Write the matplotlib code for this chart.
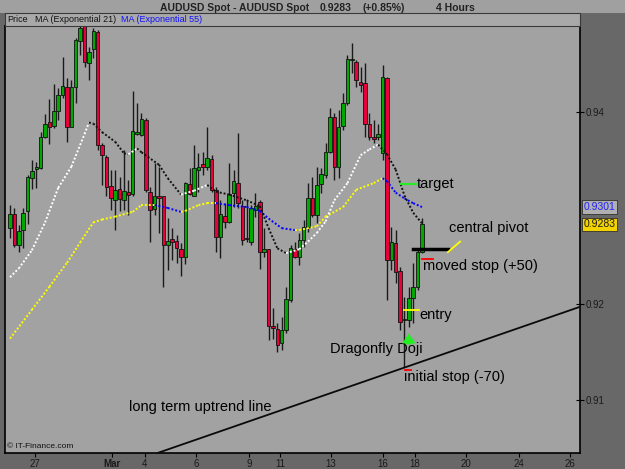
import numpy as np
import matplotlib.pyplot as plt
from matplotlib.patches import Rectangle
from matplotlib.transforms import blended_transform_factory

plt.rcParams['font.family'] = ['Liberation Sans', 'DejaVu Sans']

# AUDUSD 4 hour bars, oldest first
opens = [0.9279, 0.9294, 0.9261, 0.9277, 0.9297, 0.9331, 0.9341, 0.9342, 0.9374, 0.9390,
         0.9385, 0.9401, 0.9418, 0.9426, 0.9384, 0.9426, 0.9474, 0.9490, 0.9451, 0.9466,
         0.9483, 0.9366, 0.9353, 0.9323, 0.9308, 0.9320, 0.9308, 0.9317, 0.9315, 0.9377,
         0.9376, 0.9392, 0.9317, 0.9299, 0.9312, 0.9312, 0.9261, 0.9268, 0.9266, 0.9257,
         0.9249, 0.9325, 0.9313, 0.9340, 0.9346, 0.9343, 0.9351, 0.9319, 0.9270, 0.9292,
         0.9285, 0.9316, 0.9326, 0.9302, 0.9269, 0.9265, 0.9298, 0.9306, 0.9254, 0.9257,
         0.9177, 0.9174, 0.9159, 0.9173, 0.9204, 0.9257, 0.9249, 0.9267, 0.9280, 0.9310,
         0.9293, 0.9325, 0.9334, 0.9358, 0.9395, 0.9343, 0.9385, 0.9409, 0.9454, 0.9452,
         0.9431, 0.9430, 0.9387, 0.9374, 0.9374, 0.9357, 0.9435, 0.9246, 0.9264, 0.9234,
         0.9183, 0.9183, 0.9206, 0.9218, 0.9254]
highs = [0.9303, 0.9300, 0.9282, 0.9300, 0.9334, 0.9350, 0.9348, 0.9379, 0.9398, 0.9414,
         0.9429, 0.9425, 0.9457, 0.9435, 0.9433, 0.9477, 0.9492, 0.9492, 0.9468, 0.9487,
         0.9485, 0.9368, 0.9355, 0.9340, 0.9340, 0.9332, 0.9360, 0.9329, 0.9422, 0.9409,
         0.9399, 0.9394, 0.9322, 0.9347, 0.9343, 0.9312, 0.9290, 0.9279, 0.9272, 0.9264,
         0.9327, 0.9342, 0.9366, 0.9357, 0.9358, 0.9384, 0.9355, 0.9322, 0.9308, 0.9305,
         0.9347, 0.9340, 0.9378, 0.9308, 0.9308, 0.9303, 0.9316, 0.9308, 0.9279, 0.9257,
         0.9196, 0.9180, 0.9186, 0.9218, 0.9261, 0.9265, 0.9274, 0.9287, 0.9326, 0.9332,
         0.9343, 0.9342, 0.9368, 0.9404, 0.9399, 0.9402, 0.9420, 0.9459, 0.9472, 0.9454,
         0.9447, 0.9451, 0.9399, 0.9392, 0.9387, 0.9449, 0.9436, 0.9280, 0.9277, 0.9239,
         0.9207, 0.9218, 0.9243, 0.9258, 0.9290]
lows = [0.9269, 0.9259, 0.9254, 0.9258, 0.9283, 0.9320, 0.9321, 0.9341, 0.9373, 0.9367,
        0.9383, 0.9392, 0.9415, 0.9369, 0.9400, 0.9409, 0.9459, 0.9447, 0.9433, 0.9456,
        0.9360, 0.9324, 0.9312, 0.9298, 0.9277, 0.9297, 0.9298, 0.9293, 0.9312, 0.9376,
        0.9375, 0.9317, 0.9265, 0.9293, 0.9274, 0.9218, 0.9235, 0.9246, 0.9243, 0.9229,
        0.9242, 0.9314, 0.9312, 0.9317, 0.9334, 0.9340, 0.9317, 0.9254, 0.9248, 0.9279,
        0.9284, 0.9301, 0.9300, 0.9261, 0.9265, 0.9261, 0.9291, 0.9236, 0.9249, 0.9162,
        0.9164, 0.9150, 0.9152, 0.9170, 0.9202, 0.9248, 0.9241, 0.9259, 0.9275, 0.9291,
        0.9284, 0.9316, 0.9331, 0.9357, 0.9329, 0.9331, 0.9381, 0.9407, 0.9441, 0.9426,
        0.9421, 0.9374, 0.9371, 0.9368, 0.9371, 0.9350, 0.9204, 0.9235, 0.9222, 0.9173,
        0.9134, 0.9176, 0.9180, 0.9215, 0.9253]
closes = [0.9294, 0.9261, 0.9276, 0.9295, 0.9332, 0.9339, 0.9343, 0.9374, 0.9388, 0.9384,
          0.9401, 0.9418, 0.9427, 0.9384, 0.9426, 0.9475, 0.9487, 0.9452, 0.9462, 0.9484,
          0.9366, 0.9355, 0.9322, 0.9310, 0.9319, 0.9309, 0.9318, 0.9314, 0.9380, 0.9379,
          0.9393, 0.9319, 0.9298, 0.9313, 0.9310, 0.9261, 0.9266, 0.9265, 0.9258, 0.9249,
          0.9326, 0.9315, 0.9342, 0.9343, 0.9343, 0.9352, 0.9319, 0.9270, 0.9294, 0.9285,
          0.9315, 0.9328, 0.9305, 0.9267, 0.9268, 0.9300, 0.9302, 0.9254, 0.9257, 0.9177,
          0.9175, 0.9157, 0.9173, 0.9205, 0.9258, 0.9249, 0.9267, 0.9280, 0.9310, 0.9293,
          0.9324, 0.9335, 0.9358, 0.9395, 0.9343, 0.9384, 0.9409, 0.9455, 0.9455, 0.9433,
          0.9428, 0.9388, 0.9374, 0.9372, 0.9377, 0.9436, 0.9246, 0.9265, 0.9233, 0.9181,
          0.9184, 0.9206, 0.9218, 0.9254, 0.9283]

# moving averages (bar index, price)
ema21_x = [0, 2, 5, 8, 11, 14, 17, 18, 19, 21, 24, 26, 27, 29, 30, 34, 36, 39, 42, 45,
           47, 50, 54, 57, 59, 61, 63, 66, 68, 70, 72, 74, 77, 80, 82, 84, 86, 88, 90, 92, 94]
ema21_y = [0.9228, 0.9237, 0.9256, 0.9285, 0.9321, 0.9343, 0.9377, 0.9389, 0.9388, 0.9379,
           0.9369, 0.9357, 0.9356, 0.9362, 0.9358, 0.9345, 0.9331, 0.9314, 0.9318, 0.9324,
           0.9317, 0.9314, 0.9308, 0.9302, 0.9279, 0.9258, 0.9253, 0.9257, 0.9265, 0.9274,
           0.9286, 0.9308, 0.9326, 0.9355, 0.9361, 0.9366, 0.9356, 0.9340, 0.9313, 0.9295, 0.9284]
ema55_x = [0, 5, 9, 13, 16, 19, 21, 24, 28, 30, 33, 36, 39, 40, 43, 45, 47, 50, 54, 57,
           59, 62, 65, 66, 70, 72, 76, 79, 83, 85, 86, 88, 90, 92, 94]
ema55_y = [0.9164, 0.9194, 0.9218, 0.9243, 0.9264, 0.9285, 0.9288, 0.9291, 0.9296, 0.9303,
           0.9303, 0.9300, 0.9296, 0.9297, 0.9303, 0.9305, 0.9305, 0.9303, 0.9301, 0.9297,
           0.9289, 0.9279, 0.9277, 0.9277, 0.9281, 0.9291, 0.9301, 0.9319, 0.9326, 0.9331,
           0.9328, 0.9316, 0.9310, 0.9305, 0.9301]

date_pos = [5.7, 23.3, 30.8, 42.4, 54.5, 61.6, 73.2, 85.1, 92.4, 104.0, 116.1, 127.8]
date_labels = ["27", "Mar", "4", "6", "9", "11", "13", "16", "18", "20", "24", "26"]

# trade levels
target = 0.9325
pivot = 0.9257
moved_stop = 0.9247
entry = 0.9194
initial_stop = 0.9131
trend_x = [33.8, 130.0]
trend_y = [0.9045, 0.9197]

last_price = 0.9283
ema55_last = 0.9301

W, H = 625, 469
def fx(px):
    return px / W
def fy(py):
    return 1 - py / H

fig = plt.figure(figsize=(6.25, 4.69), dpi=100, facecolor="#686868")
ax = fig.add_axes([fx(5), fy(453), fx(575), 427 / H])
ax.set_facecolor("#a2a2a2")

# header bars
fig.add_artist(Rectangle((0, fy(13)), 1, 13 / H, transform=fig.transFigure,
                         fc="#a0a0a0", ec="none"))
fig.add_artist(Rectangle((fx(5), fy(26)), fx(575), 13 / H, transform=fig.transFigure,
                         fc="#a9a9a9", ec="#3a3a3a", lw=0.8))
fig.text(fx(160), fy(8), "AUDUSD Spot - AUDUSD Spot", fontsize=7.5, fontweight="bold",
         color="#222222", va="center")
fig.text(fx(320), fy(8), "0.9283", fontsize=7.5, fontweight="bold", color="#222222", va="center")
fig.text(fx(362), fy(8), "(+0.85%)", fontsize=7.5, fontweight="bold", color="#222222", va="center")
fig.text(fx(436), fy(8), "4 Hours", fontsize=7.5, fontweight="bold", color="#222222", va="center")
fig.text(fx(7), fy(19.5), "Price", fontsize=6.5, color="#111111", va="center")
fig.text(fx(35), fy(19.5), "MA (Exponential 21)", fontsize=6.5, color="#111111", va="center")
fig.text(fx(121), fy(19.5), "MA (Exponential 55)", fontsize=6.5, color="#1010ff", va="center")

# candles
x = np.arange(len(opens))
o = np.array(opens)
c = np.array(closes)
ax.vlines(x, lows, highs, color="#1a1a1a", lw=1.0, zorder=2)
cols = np.where(c >= o, "#00a800", "#e8003a")
body = np.maximum(np.abs(c - o), 0.00004)
ax.bar(x, body, bottom=np.minimum(o, c), width=0.8, color=cols, edgecolor="#111111",
       linewidth=0.6, zorder=3)

def draw_ma(xs, ys, up_col, down_col):
    for k in range(len(xs) - 1):
        col = up_col if ys[k + 1] >= ys[k] else down_col
        ax.plot(xs[k:k + 2], ys[k:k + 2], color=col, lw=1.4, ls=(0, (1, 1)), zorder=4)

draw_ma(ema55_x, ema55_y, "#ffff00", "#0000ff")
draw_ma(ema21_x, ema21_y, "#ffffff", "#111111")

# trend line and notes
ax.plot(trend_x, trend_y, color="#0a0a0a", lw=1.3, zorder=4)
ax.plot([89.0, 92.6], [target, target], color="#22ee22", lw=1.5, zorder=5)
ax.text(92.9, target, "target", fontsize=10.5, va="center", ha="left")
ax.plot([91.9, 99.9], [pivot, pivot], color="#000000", lw=2.5, zorder=5)
ax.plot([99.9, 102.7], [0.9254, 0.9265], color="#ffff00", lw=1.3, zorder=5)
ax.text(100.2, 0.9279, "central pivot", fontsize=10.5, va="center", ha="left")
ax.plot([94.0, 96.5], [moved_stop, moved_stop], color="#ff0000", lw=1.3, zorder=5)
ax.text(94.2, 0.9240, "moved stop (+50)", fontsize=10.5, va="center", ha="left")
ax.plot([89.9, 93.3], [entry, entry], color="#ffff00", lw=1.3, zorder=5)
ax.text(93.3, 0.9189, "entry", fontsize=10.5, va="center", ha="left")
ax.annotate("", xy=(91.0, 0.9172), xytext=(91.0, 0.9155),
            arrowprops=dict(arrowstyle="simple,head_length=0.5,head_width=0.7,tail_width=0.35",
                            fc="#22ee22", ec="none", mutation_scale=14), zorder=6)
ax.text(73.0, 0.9153, "Dragonfly Doji", fontsize=10.5, va="center", ha="left")
ax.plot([90.1, 91.5], [initial_stop, initial_stop], color="#ff0000", lw=1.3, zorder=5)
ax.text(89.9, 0.9124, "initial stop (-70)", fontsize=10.5, va="center", ha="left")
ax.text(27.2, 0.9093, "long term uptrend line", fontsize=10.5, va="center", ha="left")
ax.text(0.004, 0.006, "\u00a9 IT-Finance.com", transform=ax.transAxes, fontsize=6,
        color="#111111", va="bottom", ha="left")

# axes
ax.set_xlim(-1.14, 130.05)
ax.set_ylim(0.904479, 0.948958)
ax.yaxis.tick_right()
ax.set_yticks([0.91, 0.92, 0.94])
ax.set_yticklabels(["0.91", "0.92", "0.94"])
ax.tick_params(axis="y", direction="inout", length=6, width=0.8, labelsize=7,
               labelcolor="#1a1a1a", pad=1)
ax.set_xticks(date_pos)
ax.set_xticklabels(date_labels)
ax.get_xticklabels()[1].set_fontweight("bold")
ax.tick_params(axis="x", direction="out", length=3, width=0.8, labelsize=7,
               labelcolor="#1a1a1a", pad=1)
for s in ax.spines.values():
    s.set_color("#000000")
    s.set_linewidth(1.2)

tr = blended_transform_factory(ax.transAxes, ax.transData)
ax.text(1.006, ema55_last, "0.9301", transform=tr, fontsize=7.5, color="#2020ff",
        va="center", ha="left",
        bbox=dict(boxstyle="square,pad=0.15", fc="#b0b0b0", ec="#303030", lw=0.6))
ax.text(1.006, last_price, "0.9283", transform=tr, fontsize=7.5, color="#1a1a1a",
        va="center", ha="left",
        bbox=dict(boxstyle="square,pad=0.15", fc="#f2d200", ec="#303030", lw=0.6))

fig.savefig("out.png", dpi=100, facecolor=fig.get_facecolor())
